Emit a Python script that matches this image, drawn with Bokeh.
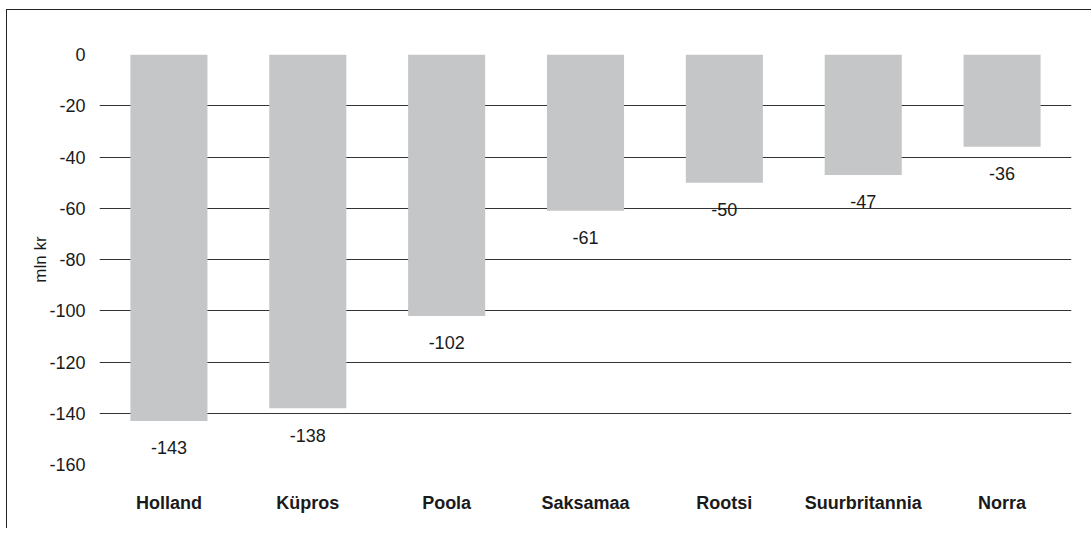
from bokeh.plotting import figure
from bokeh.models import ColumnDataSource, LabelSet, FactorRange, Range1d, FixedTicker
from bokeh.core.properties import value
from bokeh.embed import file_html
from bokeh.resources import INLINE

countries = ["Holland", "Küpros", "Poola", "Saksamaa", "Rootsi", "Suurbritannia", "Norra"]
values = [-143, -138, -102, -61, -50, -47, -36]
y_ticks = [0, -20, -40, -60, -80, -100, -120, -140, -160]
y_label = "mln kr"

FONT = "Liberation Sans"
TXT = "#1a1a1a"

src = ColumnDataSource(dict(cat=countries, val=values, lab=[str(v) for v in values]))

p = figure(x_range=FactorRange(*countries), y_range=Range1d(-160, 0),
           width=1085, height=519, output_backend="svg", toolbar_location=None,
           min_border_left=92, min_border_right=21, min_border_top=44, min_border_bottom=65)
p.styles = {"border-left": "1px solid #222", "border-top": "1px solid #222",
            "margin-left": "6px", "margin-top": "9px"}
p.outline_line_color = None

p.vbar(x="cat", top=0, bottom="val", width=0.555, source=src,
       fill_color="#c5c6c8", line_color=None)

labels = LabelSet(x="cat", y="val", text="lab", source=src, y_offset=-27,
                  text_align="center", text_baseline="middle",
                  text_font=value(FONT), text_font_size=value("18px"), text_color=TXT)
p.add_layout(labels)

p.xgrid.grid_line_color = None
p.ygrid.grid_line_color = "#333333"
p.ygrid.grid_line_width = 1
p.yaxis.ticker = FixedTicker(ticks=y_ticks)
p.yaxis.major_label_overrides = {t: str(t) for t in y_ticks}

for ax in (p.xaxis[0], p.yaxis[0]):
    ax.axis_line_color = None
    ax.major_tick_line_color = None
    ax.minor_tick_line_color = None
    ax.major_tick_in = 0
    ax.major_tick_out = 0
    ax.minor_tick_in = 0
    ax.minor_tick_out = 0

p.yaxis.major_label_text_font = FONT
p.yaxis.major_label_text_font_size = "18px"
p.yaxis.major_label_text_color = TXT
p.yaxis.major_label_standoff = 14
p.yaxis.axis_label = y_label
p.yaxis.axis_label_text_font = FONT
p.yaxis.axis_label_text_font_style = "normal"
p.yaxis.axis_label_text_font_size = "17px"
p.yaxis.axis_label_text_color = TXT
p.yaxis.axis_label_standoff = -4

p.xaxis.major_label_text_font = FONT
p.xaxis.major_label_text_font_style = "bold"
p.xaxis.major_label_text_font_size = "18px"
p.xaxis.major_label_text_color = TXT
p.xaxis.major_label_standoff = 28

open("out.html", "w").write(file_html(p, INLINE))
